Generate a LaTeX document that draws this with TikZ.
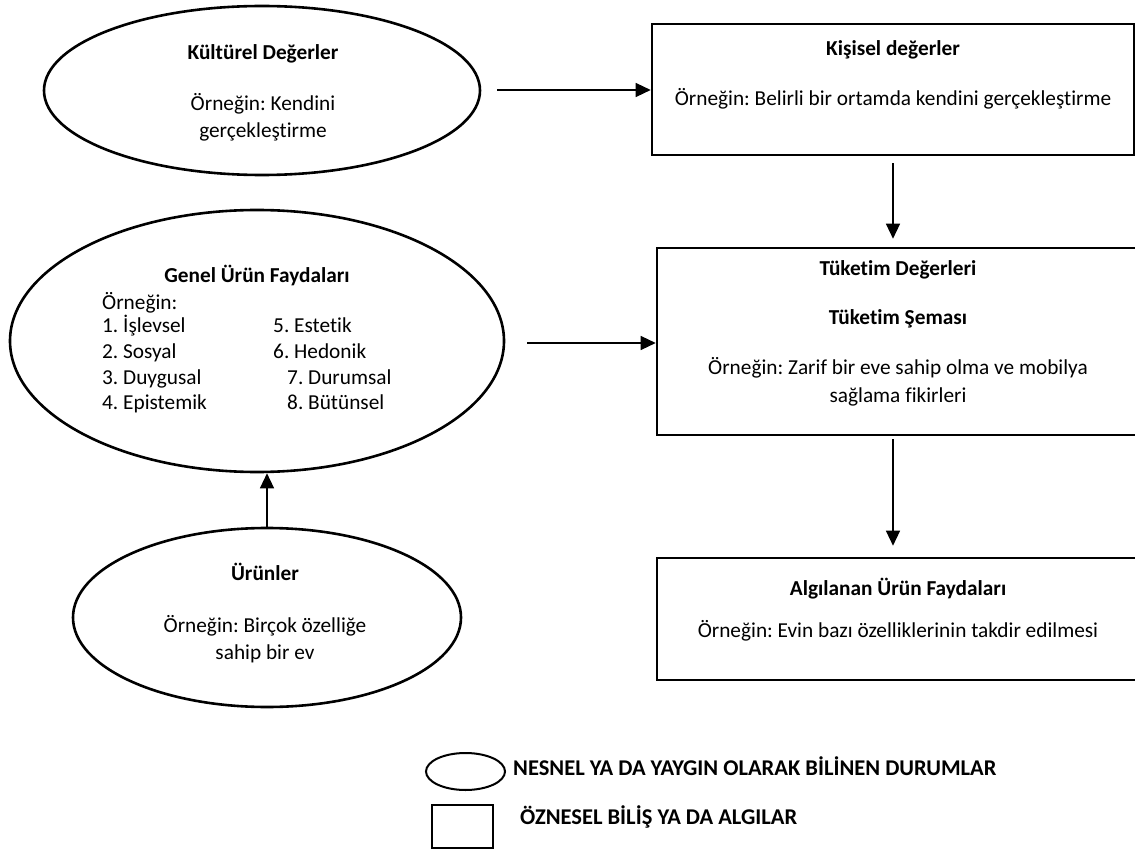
\documentclass[tikz,border=0pt]{standalone}
\usepackage{fontspec}
\setmainfont{Carlito}[RawFeature={-liga;-clig;-dlig}]
\usetikzlibrary{shapes.geometric,arrows.meta}
\frenchspacing
\begin{document}
\begin{tikzpicture}[x=1pt,y=-1pt,
  oval/.style={draw,line width=2.6pt,ellipse,inner sep=0pt},
  rbox/.style={draw,line width=2.6pt,rectangle,inner sep=0pt},
  txt/.style={font=\fontsize{21.3}{26}\selectfont,inner sep=0pt,anchor=mid},
  txtw/.style={txt,anchor=mid west},
  hd/.style={txt,font=\fontsize{21.3}{26}\selectfont\bfseries},
  lg/.style={font=\fontsize{22.5}{26}\selectfont\bfseries,inner sep=0pt,anchor=mid west},
  arr/.style={line width=1.3pt,-{Triangle[length=15pt,width=14pt]}}]
\useasboundingbox (0,0) rectangle (1135,850);
\fill[white] (0,0) rectangle (1135,850);

% shapes
\node[oval,minimum width=436pt,minimum height=169pt] (kult) at (262,90.5) {};
\node[rbox,minimum width=482pt,minimum height=131pt] (kisi) at (893,89.5) {};
\node[oval,minimum width=494pt,minimum height=262pt] (genel) at (257,341) {};
\node[rbox,minimum width=483pt,minimum height=187pt] (tuk) at (898.5,341.5) {};
\node[oval,minimum width=388pt,minimum height=179pt] (urun) at (267,617.5) {};
\node[rbox,minimum width=483pt,minimum height=122pt] (alg) at (898.5,619) {};

% texts
\node[hd] (t1a) at (263,57) {Kültürel Değerler};
\node[txt] (t1b) at (263,108) {Örneğin: Kendini};
\begin{scope}
\clip (100,120) rectangle (450,141);
\node[txt] (t1c) at (263,135) {gerçekleştirme};
\end{scope}

\node[hd] (t2a) at (893,53) {Kişisel değerler};
\node[txt] (t2b) at (893,103) {Örneğin: Belirli bir ortamda kendini gerçekleştirme};

\node[hd] (t3a) at (257,280) {Genel Ürün Faydaları};
\node[txtw] (t3b) at (102,307) {Örneğin:};
\node[txtw] (t3c) at (102,330) {1. İşlevsel};
\node[txtw] (t3d) at (102,356) {2. Sosyal};
\node[txtw] (t3e) at (102,382) {3. Duygusal};
\node[txtw] (t3f) at (102,407) {4. Epistemik};
\node[txtw] (t3g) at (273,330) {5. Estetik};
\node[txtw] (t3h) at (273,356) {6. Hedonik};
\node[txtw] (t3i) at (287,382) {7. Durumsal};
\node[txtw] (t3j) at (287,407) {8. Bütünsel};

\node[hd] (t4a) at (898,273) {Tüketim Değerleri};
\node[hd] (t4b) at (898,322) {Tüketim Şeması};
\node[txt] (t4c) at (898,372) {Örneğin: Zarif bir eve sahip olma ve mobilya};
\node[txt] (t4d) at (898,400) {sağlama fikirleri};

\node[hd] (t5a) at (265,578) {Ürünler};
\node[txt] (t5b) at (265,630) {Örneğin: Birçok özelliğe};
\node[txt] (t5c) at (265,657) {sahip bir ev};

\node[hd] (t6a) at (898,593) {Algılanan Ürün Faydaları};
\node[txt] (t6b) at (898,635) {Örneğin: Evin bazı özelliklerinin takdir edilmesi};

% legend
\node[oval,line width=2pt,minimum width=79pt,minimum height=37pt] (lgo) at (465.5,771.5) {};
\node[rbox,line width=2pt,minimum width=61pt,minimum height=43pt] (lgr) at (462.5,826.5) {};
\node[lg] (lgt1) at (513,773) {NESNEL YA DA YAYGIN OLARAK BİLİNEN DURUMLAR};
\node[lg] (lgt2) at (520,822) {ÖZNESEL BİLİŞ YA DA ALGILAR};

% connectors
\coordinate (k1) at (497,90);
\coordinate (g1) at (527,343);
\draw[arr] (k1) -- (k1 -| kisi.west);
\draw[arr,shorten <=7pt,shorten >=8pt] (kisi.south) -- (kisi.south |- tuk.north);
\draw[arr] (g1) -- (g1 -| tuk.west);
\draw[arr,shorten <=3pt,shorten >=11pt] (kisi.south |- tuk.south) -- (kisi.south |- alg.north);
\draw[arr] (urun.north) -- (urun.north |- genel.south);
\end{tikzpicture}
\end{document}
